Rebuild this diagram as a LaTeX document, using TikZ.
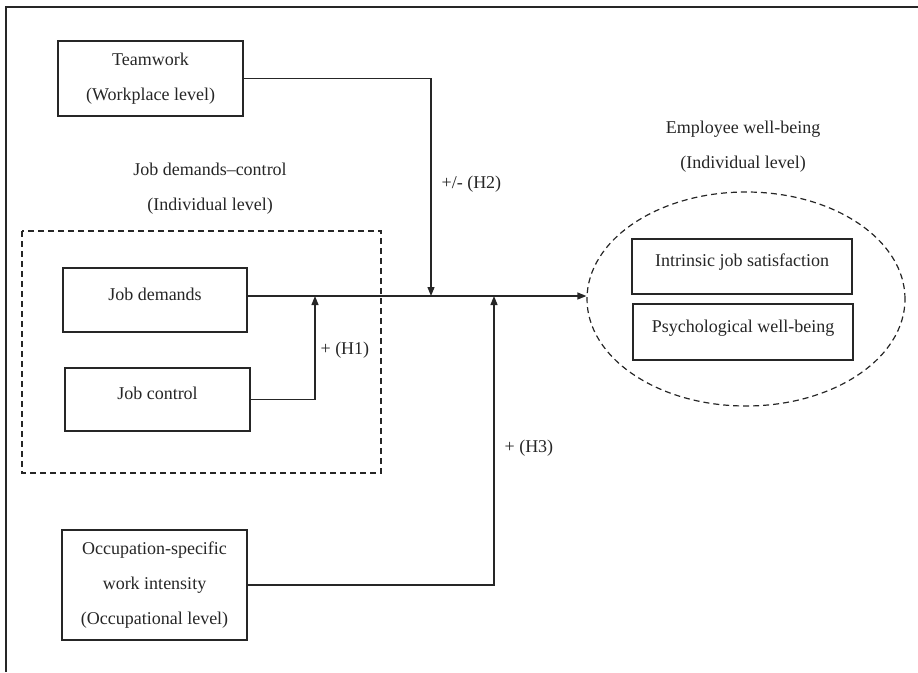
\documentclass[tikz,border=0pt]{standalone}
\usepackage{fontspec}
\setmainfont{Liberation Serif}
\usetikzlibrary{arrows.meta,shapes.geometric}
\begin{document}
\begin{tikzpicture}[x=1pt,y=-1pt,line width=1.2pt,draw=black!85,
  >={Triangle[length=9pt,width=7pt]},
  every node/.style={font=\fontsize{18}{35}\selectfont,text=black!85},
  box/.style={draw,rectangle,align=center,inner sep=0pt},
  onebox/.style={box,text height=12pt,text depth=12pt},
  lbl/.style={anchor=west,inner sep=0pt}]
\useasboundingbox (0,0) rectangle (918,672);
% frame
\draw (6,672) -- (6,7) -- (918,7);
% level boxes
\node[box,minimum width=185pt,minimum height=75pt] (team) at (150.5,78.5) {Teamwork\\(Workplace level)};
\node[align=center] (jdclbl) at (210,189) {Job demands--control\\(Individual level)};
\draw[dashed,dash pattern=on 6pt off 4pt] (22,231) rectangle (381,473);
\node[onebox,minimum width=184pt,minimum height=64pt] (demands) at (155,300) {Job demands};
\node[onebox,minimum width=185pt,minimum height=63pt] (control) at (157.5,399.5) {Job control};
\node[box,minimum width=185pt,minimum height=110pt] (occup) at (154.5,585) {Occupation-specific\\work intensity\\(Occupational level)};
% outcome
\node[align=center] (wblbl) at (743,147) {Employee well-being\\(Individual level)};
\node[draw,ellipse,dashed,dash pattern=on 6pt off 4pt,minimum width=318pt,minimum height=214pt] (wellbeing) at (746,299) {};
\node[onebox,minimum width=220pt,minimum height=55pt] (satis) at (742,266.5) {Intrinsic job satisfaction};
\node[onebox,minimum width=220pt,minimum height=56pt] (psych) at (743,332) {Psychological well-being};
% paths
\draw[->] ([yshift=4pt]demands.east) coordinate (mainstart) -- (mainstart -| wellbeing.west);
\coordinate (h1) at (315,296);
\coordinate (h2) at (431,296);
\coordinate (h3) at (494,296);
\draw[->] (control.east) -| (h1);
\draw[->] (team.east) -| (h2);
\draw[->] (occup.east) -| (h3);
\node[lbl] (lh1) at (320,350) {+ (H1)};
\node[lbl] (lh2) at (441,184) {+/- (H2)};
\node[lbl] (lh3) at (504,448) {+ (H3)};
\end{tikzpicture}
\end{document}
